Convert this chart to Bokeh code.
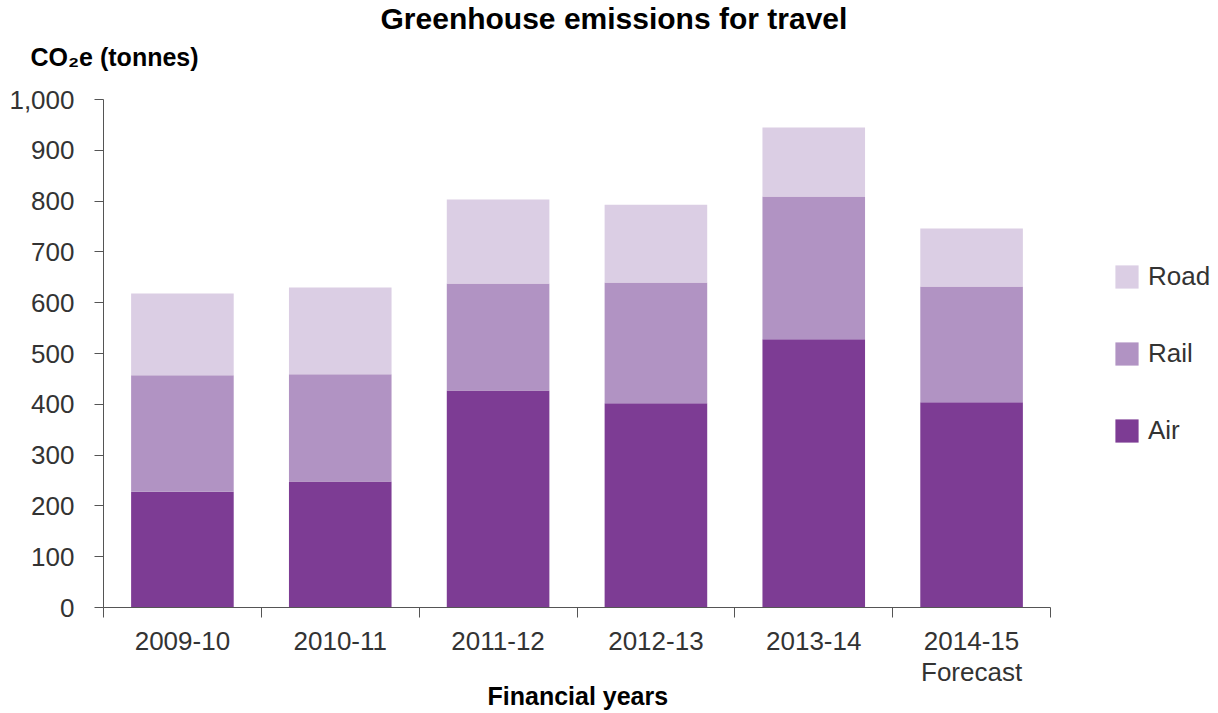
from bokeh.plotting import figure
from bokeh.models import (ColumnDataSource, Range1d, FixedTicker, NumeralTickFormatter,
                          Title, Legend, LegendItem)
from bokeh.embed import file_html
from bokeh.resources import INLINE

years = ["2009-10", "2010-11", "2011-12", "2012-13", "2013-14", "2014-15\nForecast"]
air = [228, 248, 427, 402, 528, 404]
rail = [229, 211, 211, 238, 281, 228]
road = [161, 171, 165, 153, 136, 114]
y_ticks = [0, 100, 200, 300, 400, 500, 600, 700, 800, 900, 1000]

colors = {"Air": "#7D3C94", "Rail": "#B193C3", "Road": "#DBCEE4"}
FONT = "Liberation Sans"
TXT = "#333333"
AX = "#555555"

n = len(years)
pos = [i + 0.5 for i in range(n)]
source = ColumnDataSource(dict(x=pos, Air=air, Rail=rail, Road=road))

# frame spans to the right edge so the legend can sit inside it; axis line is bounded
p = figure(width=1218, height=713, output_backend="svg", toolbar_location=None,
           x_range=Range1d(0, n * 1115 / 947), y_range=Range1d(0, 1000),
           min_border_left=103, min_border_right=0, min_border_top=99, min_border_bottom=106)
p.outline_line_color = None
p.xgrid.visible = False
p.ygrid.visible = False

renderers = p.vbar_stack(["Air", "Rail", "Road"], x="x", width=0.65, source=source,
                         color=[colors["Air"], colors["Rail"], colors["Road"]], line_color=None)

# x axis: labels at centres, boundary ticks as minor ticks
xa = p.xaxis[0]
xa.bounds = (0, n)
xa.ticker = FixedTicker(ticks=pos, minor_ticks=list(range(n + 1)))
xa.major_label_overrides = {pos[i]: years[i] for i in range(n)}
xa.major_tick_line_color = None
xa.major_tick_out = 0
xa.major_tick_in = 0
xa.minor_tick_out = 10
xa.minor_tick_in = 0
xa.minor_tick_line_color = AX
xa.axis_line_color = AX
xa.major_label_standoff = 8
xa.major_label_text_font = FONT
xa.major_label_text_font_size = "26px"
xa.major_label_text_line_height = 1.06
xa.major_label_text_color = TXT

ya = p.yaxis[0]
ya.ticker = FixedTicker(ticks=y_ticks, minor_ticks=[])
ya.formatter = NumeralTickFormatter(format="0,0")
ya.major_tick_out = 9
ya.major_tick_in = 0
ya.major_tick_line_color = AX
ya.axis_line_color = AX
ya.major_label_standoff = 20
ya.major_label_text_font = FONT
ya.major_label_text_font_size = "26px"
ya.major_label_text_color = TXT

p.add_layout(Title(text="CO\u2082e (tonnes)", align="left", offset=-73,
                   text_font=FONT, text_font_size="25px", text_font_style="bold",
                   text_color="#000000", standoff=58), "above")
p.add_layout(Title(text="Greenhouse emissions for travel", align="left", offset=277,
                   text_font=FONT, text_font_size="30px", text_font_style="bold",
                   text_color="#000000", standoff=-46), "above")
p.add_layout(Title(text="Financial years", align="left", offset=384,
                   text_font=FONT, text_font_size="25px", text_font_style="bold",
                   text_color="#000000", standoff=-22), "below")

legend = Legend(items=[LegendItem(label="Road", renderers=[renderers[2]]),
                       LegendItem(label="Rail", renderers=[renderers[1]]),
                       LegendItem(label="Air", renderers=[renderers[0]])],
                location=(1009, 161), margin=0, padding=0, spacing=46,
                glyph_width=29, glyph_height=29, label_height=31, label_standoff=7,
                label_text_font=FONT, label_text_font_size="26px", label_text_color=TXT,
                border_line_color=None, background_fill_alpha=0)
p.add_layout(legend)

open("out.html", "w").write(file_html(p, INLINE))
